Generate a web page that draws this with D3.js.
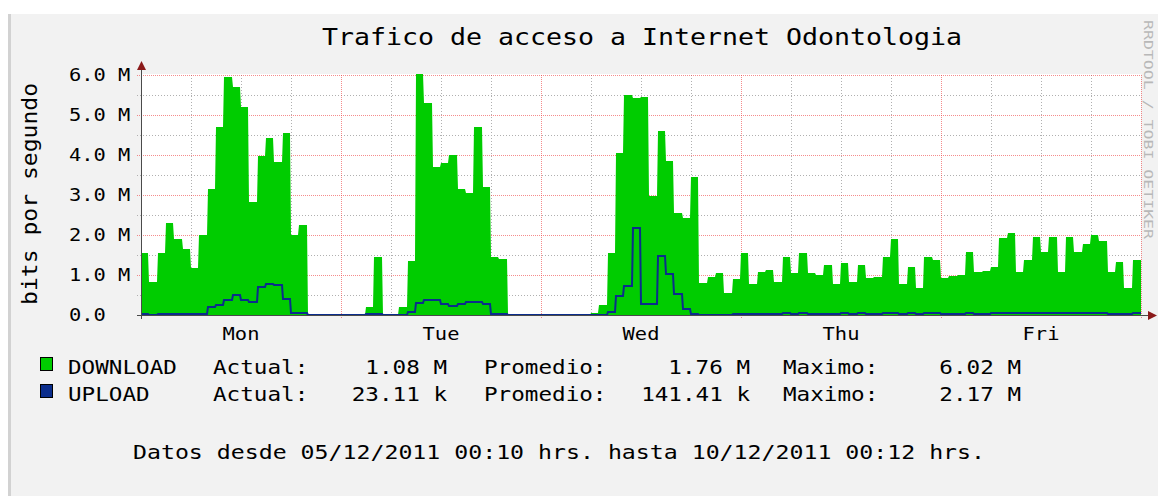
<!DOCTYPE html>
<html>
<head>
<meta charset="utf-8">
<script src="https://cdn.jsdelivr.net/npm/d3@7/dist/d3.min.js"></script>
<style>
  body { margin: 0; background: #fff; }
  text { font-family: "DejaVu Sans Mono", monospace; fill: #000; }
</style>
</head>
<body>
<svg id="chart" width="1158" height="496"></svg>
<script>
// datos por hora, en Mbit/s
var dayLabels = ["Mon", "Tue", "Wed", "Thu", "Fri"];
var yTickLabels = ["0.0", "1.0 M", "2.0 M", "3.0 M", "4.0 M", "5.0 M", "6.0 M"];

var download = [
  // Mon
  1.56, 0.82, 1.56, 2.31, 1.91, 1.66, 1.18, 2.00, 3.16, 4.71, 5.96, 5.71,
  5.21, 2.83, 3.98, 4.42, 3.83, 4.56, 2.00, 2.26, 0, 0, 0, 0,
  // Tue
  0, 0, 0, 0.21, 1.46, 0, 0, 0.21, 1.35, 6.02, 5.31, 3.71,
  3.79, 4.00, 3.14, 3.04, 4.69, 3.19, 1.44, 1.40, 0.03, 0, 0, 0,
  // Wed
  0, 0, 0, 0, 0, 0, 0.06, 0.24, 1.55, 4.05, 5.51, 5.43,
  5.46, 2.97, 4.61, 3.85, 2.56, 2.42, 3.46, 0.80, 0.95, 1.05, 0.55, 0.90,
  // Thu
  1.56, 0.77, 1.08, 1.12, 0.82, 1.46, 1.06, 1.56, 1.06, 1.01, 1.25, 0.77,
  1.31, 0.82, 1.25, 0.92, 0.96, 1.46, 1.91, 0.77, 1.20, 0.67, 1.46, 1.37,
  // Fri
  0.93, 0.97, 1.01, 1.57, 1.07, 1.11, 1.21, 1.92, 2.06, 1.07, 1.37, 1.96,
  1.57, 1.96, 1.07, 1.96, 1.57, 1.77, 2.01, 1.86, 1.07, 1.32, 0.67, 1.37
];

var upload = [
  // Mon
  0.03, 0.00, 0.03, 0.03, 0.03, 0.03, 0.03, 0.03, 0.19, 0.25, 0.37, 0.49,
  0.37, 0.33, 0.69, 0.78, 0.74, 0.40, 0.04, 0.04, 0, 0, 0, 0,
  // Tue
  0, 0, 0, 0.02, 0.03, 0, 0, 0, 0.08, 0.29, 0.37, 0.37,
  0.27, 0.22, 0.27, 0.32, 0.32, 0.27, 0.03, 0.03, 0, 0, 0, 0,
  // Wed
  0, 0, 0, 0, 0, 0, 0, 0, 0.08, 0.48, 0.73, 2.17,
  0.27, 0.27, 1.48, 1.03, 0.53, 0.14, 0.03, 0, 0, 0, 0, 0.02,
  // Thu
  0.02, 0.02, 0.02, 0.02, 0.02, 0.05, 0.02, 0.05, 0.02, 0.02, 0.02, 0.02,
  0.05, 0.02, 0.05, 0.02, 0.02, 0.05, 0.05, 0.02, 0.05, 0.02, 0.05, 0.05,
  // Fri
  0.02, 0.02, 0.02, 0.05, 0.02, 0.02, 0.04, 0.04, 0.04, 0.04, 0.04, 0.04,
  0.04, 0.04, 0.04, 0.04, 0.04, 0.04, 0.04, 0.04, 0.02, 0.02, 0.02, 0.04
];

var legendNames = ["DOWNLOAD", "UPLOAD"];
var legendActual = ["1.08 M", "23.11 k"];
var legendProm = ["1.76 M", "141.41 k"];
var legendMax = ["6.02 M", "2.17 M"];

var titulo = "Trafico de acceso a Internet Odontologia";
var pie = "Datos desde 05/12/2011 00:10 hrs. hasta 10/12/2011 00:12 hrs.";

var start = new Date(Date.UTC(2011, 11, 5)),
    end = new Date(Date.UTC(2011, 11, 10));

var svg = d3.select("#chart");
var colGreen = "#00cc00", colBlue = "#0b2d8c", sx = 1.19;
var colMgrid = "#ee4040", colGrid = "#b0b0b0";

// fondo
svg.append("rect").attr("x", 8).attr("y", 14).attr("width", 1150).attr("height", 482).attr("fill", "#f2f2f2");
svg.append("rect").attr("x", 8).attr("y", 14).attr("width", 3).attr("height", 482).attr("fill", "#d2d2d2");

var x = d3.scaleUtc().domain([start, end]).range([141, 1141]);
var y = d3.scaleLinear().domain([0, 6]).range([315, 75]);

// canvas blanco
svg.append("rect")
  .attr("x", x.range()[0]).attr("y", y(6) - 1)
  .attr("width", x.range()[1] - x.range()[0]).attr("height", y(0) - y(6) + 1)
  .attr("fill", "#fff");

// grilla
var g = svg.append("g");
var minorX = d3.utcHour.every(6).range(start, end).filter(function (d) { return d.getUTCHours() != 0; });
var majorX = d3.utcDay.range(start, d3.utcDay.offset(end, 1));
g.selectAll(".vmin").data(minorX).enter().append("line")
  .attr("x1", function (d) { return Math.round(x(d)) + 0.5; })
  .attr("x2", function (d) { return Math.round(x(d)) + 0.5; })
  .attr("y1", y(6)).attr("y2", y(0) + 2)
  .attr("stroke", colGrid).attr("stroke-dasharray", "1,2");
g.selectAll(".hmin").data(d3.range(0.5, 6, 1)).enter().append("line")
  .attr("x1", 137).attr("x2", 1141)
  .attr("y1", function (d) { return Math.round(y(d)) + 0.5; })
  .attr("y2", function (d) { return Math.round(y(d)) + 0.5; })
  .attr("stroke", colGrid).attr("stroke-dasharray", "1,2");
g.selectAll(".vmaj").data(majorX).enter().append("line")
  .attr("x1", function (d) { return Math.round(x(d)) + 0.5; })
  .attr("x2", function (d) { return Math.round(x(d)) + 0.5; })
  .attr("y1", y(6)).attr("y2", y(0) + 3)
  .attr("stroke", colMgrid).attr("stroke-opacity", 0.6).attr("stroke-dasharray", "1,1");
g.selectAll(".hmaj").data(d3.range(1, 7)).enter().append("line")
  .attr("x1", 137).attr("x2", 1141)
  .attr("y1", function (d) { return Math.round(y(d)) + 0.5; })
  .attr("y2", function (d) { return Math.round(y(d)) + 0.5; })
  .attr("stroke", colMgrid).attr("stroke-opacity", 0.6).attr("stroke-dasharray", "1,1");

// series: cada valor cubre una hora, con paso de 1px entre columnas (como rrdtool)
var hours = d3.utcHour.range(start, end);
function pts(vals) {
  var p = [];
  hours.forEach(function (t, i) {
    var x0 = Math.round(x(t)), x1 = Math.round(x(d3.utcHour.offset(t, 1)));
    p.push([x0, vals[i]]);
    p.push([x1 - 1, vals[i]]);
  });
  p.push([Math.round(x(end)), vals[vals.length - 1]]);
  return p;
}

svg.append("path")
  .datum(pts(download))
  .attr("fill", colGreen)
  .attr("d", d3.area()
    .x(function (d) { return d[0]; })
    .y0(y(0))
    .y1(function (d) { return Math.round(y(d[1])); }));

svg.append("path")
  .datum(pts(upload))
  .attr("fill", "none")
  .attr("stroke", colBlue)
  .attr("stroke-width", 2)
  .attr("d", d3.line()
    .x(function (d) { return d[0]; })
    .y(function (d) { return Math.round(y(d[1])); }));

// ejes
svg.append("line").attr("x1", 137).attr("x2", 1149).attr("y1", 315.5).attr("y2", 315.5)
  .attr("stroke", "#4a4a4a");
svg.append("line").attr("x1", 141.5).attr("x2", 141.5).attr("y1", 319).attr("y2", 69)
  .attr("stroke", "#4a4a4a");
svg.append("path").attr("d", "M137,70 L146,70 L141.5,61 Z").attr("fill", "#8b1a1a");
svg.append("path").attr("d", "M1148,311 L1148,320 L1157,315.5 Z").attr("fill", "#8b1a1a");

// etiquetas eje y
svg.selectAll(".ylab").data(yTickLabels).enter().append("text")
  .attr("font-size", 17)
  .attr("transform", function (d, i) { return "translate(69," + (y(i) + 6) + ") scale(1.2,1)"; })
  .text(function (d) { return d; });

// etiquetas eje x (mediodia de cada dia)
var noons = d3.utcDay.range(start, end).map(function (d) { return d3.utcHour.offset(d, 12); });
svg.selectAll(".xlab").data(noons).enter().append("text")
  .attr("font-size", 17)
  .attr("text-anchor", "middle")
  .attr("transform", function (d) { return "translate(" + x(d) + ",340) scale(1.2,1)"; })
  .text(function (d, i) { return dayLabels[i]; });

// titulo
svg.append("text")
  .attr("x", 322).attr("y", 45)
  .attr("font-size", 23)
  .attr("textLength", 640).attr("lengthAdjust", "spacingAndGlyphs")
  .text(titulo);

// etiqueta vertical
svg.append("text")
  .attr("transform", "translate(37,194) rotate(-90)")
  .attr("text-anchor", "middle")
  .attr("font-size", 22)
  .attr("textLength", 222).attr("lengthAdjust", "spacingAndGlyphs")
  .text("bits por segundo");

// marca de agua
svg.append("text")
  .attr("transform", "translate(1144,20) rotate(90)")
  .attr("font-size", 13)
  .attr("textLength", 219).attr("lengthAdjust", "spacingAndGlyphs")
  .style("fill", "#b8b8b8")
  .text("RRDTOOL / TOBI OETIKER");

// leyenda
var rowsY = [374, 401];
var colors = [colGreen, colBlue];
function ltext(txt, xx, yy, anchor) {
  svg.append("text")
    .attr("font-size", 19)
    .attr("text-anchor", anchor || "start")
    .attr("transform", "translate(" + xx + "," + yy + ") scale(" + sx + ",1)")
    .text(txt);
}
legendNames.forEach(function (name, i) {
  var yy = rowsY[i];
  svg.append("rect").attr("x", 40.5).attr("y", yy - 16.5).attr("width", 12).attr("height", 13)
    .attr("fill", colors[i]).attr("stroke", "#000");
  ltext(name, 68, yy);
  ltext("Actual:", 213, yy);
  ltext(legendActual[i], 447, yy, "end");
  ltext("Promedio:", 484, yy);
  ltext(legendProm[i], 750, yy, "end");
  ltext("Maximo:", 783, yy);
  ltext(legendMax[i], 1021, yy, "end");
});

// pie
svg.append("text")
  .attr("x", 133).attr("y", 459)
  .attr("font-size", 19)
  .attr("textLength", 852).attr("lengthAdjust", "spacingAndGlyphs")
  .text(pie);
</script>
</body>
</html>
